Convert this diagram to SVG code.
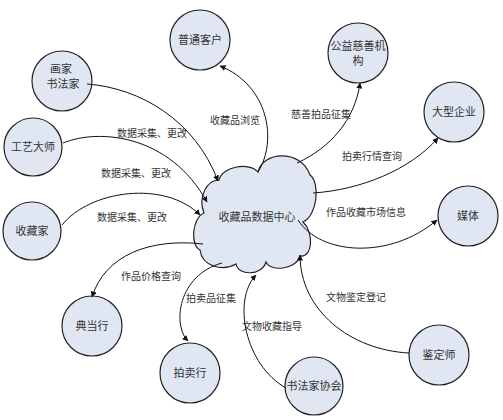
<svg xmlns="http://www.w3.org/2000/svg" width="503" height="420" viewBox="0 0 503 420">
<style>
.node{fill:#e0e7f3;stroke:#222;stroke-width:1.2}
.nt{font-family:"Noto Sans CJK SC","Noto Sans CJK JP",sans-serif;font-size:11px;fill:#333;text-anchor:middle}
.lt{font-family:"Noto Sans CJK SC","Noto Sans CJK JP",sans-serif;font-size:10px;fill:#333;text-anchor:middle}
.edge{fill:none;stroke:#111;stroke-width:1;marker-end:url(#ah)}
</style>
<defs>
<marker id="ah" viewBox="0 0 6 6" refX="5.5" refY="3" markerWidth="6" markerHeight="6" markerUnits="userSpaceOnUse" orient="auto">
<path d="M0,0 L6,3 L0,6 z" fill="#111"/>
</marker>
</defs>
<rect width="503" height="420" fill="#fff"/>
<g id="center">
<path class="node" d="M 200,250 C 190,245 192,218 204,213 C 198,198 206,180 219,180 C 222,166 250,162 258,172 C 262,152 300,148 310,175 C 320,182 318,215 303,222 C 314,232 313,258 300,256 C 296,270 270,272 266,262 C 262,276 238,276 236,264 C 222,272 202,266 200,250 Z"/>
<text class="nt" x="257" y="221">收藏品数据中心</text>
</g>
<g id="n-ptkh"><circle class="node" cx="200" cy="40" r="30"/><text class="nt" x="200" y="44">普通客户</text></g>
<g id="n-hj"><circle class="node" cx="62" cy="81" r="30"/><text class="nt" x="62" y="73"><tspan x="61">画家</tspan><tspan x="63" dy="15">书法家</tspan></text></g>
<g id="n-gyds"><circle class="node" cx="33" cy="147" r="29"/><text class="nt" x="33" y="151">工艺大师</text></g>
<g id="n-scj"><circle class="node" cx="32" cy="231" r="29"/><text class="nt" x="32" y="235">收藏家</text></g>
<g id="n-ddh"><circle class="node" cx="92" cy="326" r="30"/><text class="nt" x="92" y="330">典当行</text></g>
<g id="n-pmh"><circle class="node" cx="190" cy="373" r="30"/><text class="nt" x="190" y="377">拍卖行</text></g>
<g id="n-sfjxh"><circle class="node" cx="314" cy="386" r="29"/><text class="nt" x="314" y="390">书法家协会</text></g>
<g id="n-jds"><circle class="node" cx="439" cy="355" r="30"/><text class="nt" x="439" y="359">鉴定师</text></g>
<g id="n-mt"><circle class="node" cx="468" cy="216" r="30"/><text class="nt" x="468" y="220">媒体</text></g>
<g id="n-dxqy"><circle class="node" cx="454" cy="112" r="30"/><text class="nt" x="454" y="116">大型企业</text></g>
<g id="n-gycs"><circle class="node" cx="358" cy="53" r="30"/><text class="nt" x="358" y="50"><tspan x="358">公益慈善机</tspan><tspan x="358" dy="15">构</tspan></text></g>
<g id="connectors">
<path class="edge" d="M 87,84 C 140,88 195,120 218,181"/>
<path class="edge" d="M 63,143 C 100,128 170,135 207,202"/>
<path class="edge" d="M 62,225 C 90,190 165,180 200,215"/>
<path class="edge" d="M 258,172 C 278,140 268,85 220,66"/>
<path class="edge" d="M 297,163 C 330,148 355,120 360,83"/>
<path class="edge" d="M 313,193 C 360,190 410,170 438,138"/>
<path class="edge" d="M 298,220 C 320,255 390,260 437,220"/>
<path class="edge" d="M 409,353 C 350,350 300,310 300,255"/>
<path class="edge" d="M 286,388 C 245,365 232,300 256,275"/>
<path class="edge" d="M 222,263 C 178,275 172,325 188,341"/>
<path class="edge" d="M 203,244 C 150,238 105,255 92,297"/>
<text class="lt" x="152" y="137">数据采集、更改</text>
<text class="lt" x="136" y="177">数据采集、更改</text>
<text class="lt" x="132" y="221">数据采集、更改</text>
<text class="lt" x="235" y="124">收藏品浏览</text>
<text class="lt" x="321" y="118">慈善拍品征集</text>
<text class="lt" x="372" y="160">拍卖行情查询</text>
<text class="lt" x="366" y="216">作品收藏市场信息</text>
<text class="lt" x="356" y="301">文物鉴定登记</text>
<text class="lt" x="272" y="330">文物收藏指导</text>
<text class="lt" x="211" y="302">拍卖品征集</text>
<text class="lt" x="151" y="280">作品价格查询</text>
</g>
</svg>
